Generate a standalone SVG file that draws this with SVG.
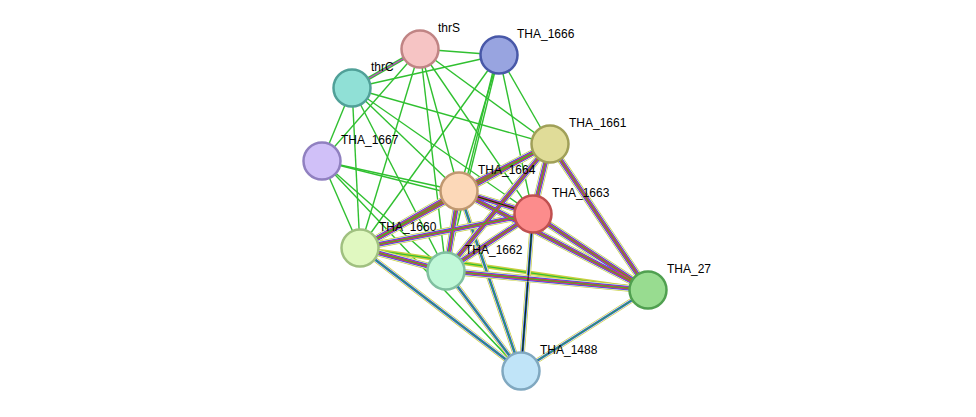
<svg xmlns="http://www.w3.org/2000/svg" width="976" height="417" viewBox="0 0 976 417">
<style>
.g{stroke:#30c030;stroke-width:1.4;fill:none}
.m1{stroke:#c8d040;stroke-width:7}
.m1w{stroke:#ffffff;stroke-width:5.6}
.m2{stroke:#3050e0;stroke-width:4.6}
.m3{stroke:#c040c0;stroke-width:3.2}
.m4{stroke:#e03030;stroke-width:2}
.m5{stroke:#30c030;stroke-width:1}
.f1{stroke:#c8d040;stroke-width:5}
.f1w{stroke:#ffffff;stroke-width:3.6}
.f2{stroke:#3050e0;stroke-width:2.6}
.f3{stroke:#30c030;stroke-width:1}
.n circle{stroke-width:2.5}
text{font-family:"Liberation Sans",Arial,sans-serif;font-size:12px;fill:#000}
</style>
<defs>
<g id="E">
<line x1="459" y1="191" x2="533" y2="214"/><line x1="459" y1="191" x2="550" y2="144"/><line x1="459" y1="191" x2="360" y2="248"/><line x1="459" y1="191" x2="446" y2="271"/><line x1="459" y1="191" x2="648" y2="290"/><line x1="533" y1="214" x2="550" y2="144"/><line x1="533" y1="214" x2="360" y2="248"/><line x1="533" y1="214" x2="446" y2="271"/><line x1="533" y1="214" x2="648" y2="290"/><line x1="550" y1="144" x2="446" y2="271"/><line x1="550" y1="144" x2="360" y2="248"/><line x1="550" y1="144" x2="648" y2="290"/><line x1="360" y1="248" x2="446" y2="271"/><line x1="446" y1="271" x2="648" y2="290"/>
</g>
<g id="F">
<line x1="459" y1="191" x2="521" y2="371"/><line x1="533" y1="214" x2="521" y2="371"/><line x1="446" y1="271" x2="521" y2="371"/><line x1="521" y1="371" x2="648" y2="290"/><line x1="360" y1="248" x2="521" y2="371"/>
</g>
</defs>
<rect width="976" height="417" fill="#fff"/>
<g id="connectors">
<g class="g">
<line x1="420" y1="49" x2="499" y2="55"/><line x1="420" y1="49" x2="550" y2="144"/><line x1="420" y1="49" x2="459" y2="191"/><line x1="420" y1="49" x2="533" y2="214"/><line x1="420" y1="49" x2="360" y2="248"/><line x1="420" y1="49" x2="446" y2="271"/><line x1="420" y1="49" x2="322" y2="161"/>
<line x1="499" y1="55" x2="352" y2="88"/><line x1="499" y1="55" x2="550" y2="144"/><line x1="499" y1="55" x2="459" y2="191"/><line x1="499" y1="55" x2="533" y2="214"/><line x1="499" y1="55" x2="360" y2="248"/><line x1="499" y1="55" x2="446" y2="271"/><line x1="497" y1="55" x2="444" y2="271"/>
<line x1="352" y1="88" x2="550" y2="144"/><line x1="352" y1="88" x2="459" y2="191"/><line x1="352" y1="88" x2="533" y2="214"/><line x1="352" y1="88" x2="360" y2="248"/><line x1="352" y1="88" x2="446" y2="271"/><line x1="352" y1="88" x2="322" y2="161"/>
<line x1="322" y1="161" x2="459" y2="191"/><line x1="322" y1="161" x2="533" y2="214"/><line x1="322" y1="161" x2="360" y2="248"/><line x1="322" y1="161" x2="521" y2="371"/><line x1="322" y1="161" x2="446" y2="271"/>
</g>
<line x1="420" y1="49" x2="352" y2="88" stroke="#30c030" stroke-width="3.5"/>
<line x1="420" y1="49" x2="352" y2="88" stroke="#d040d0" stroke-width="1.3"/>
<line x1="360" y1="248" x2="648" y2="290" stroke="#c8d040" stroke-width="4"/>
<line x1="360" y1="248" x2="648" y2="290" stroke="#30c030" stroke-width="1.2"/>
<use href="#F" class="f1"/>
<use href="#F" class="f1w"/>
<use href="#F" class="f2"/>
<use href="#F" class="f3"/>
<use href="#E" class="m1"/>
<use href="#E" class="m1w"/>
<use href="#E" class="m2"/>
<use href="#E" class="m3"/>
<use href="#E" class="m4"/>
<use href="#E" class="m5"/>
<line x1="459" y1="191" x2="533" y2="214" stroke="#000" stroke-width="0.8"/>
<line x1="533" y1="214" x2="521" y2="371" stroke="#000" stroke-width="0.8"/>
</g>
<g id="thrS" class="n"><circle cx="420" cy="49" r="18.5" fill="#f6c4c4" stroke="#c08484"/><text x="438" y="32">thrS</text></g>
<g id="THA_1666" class="n"><circle cx="499" cy="55" r="18.5" fill="#98a4e0" stroke="#4858a8"/><text x="517" y="38">THA_1666</text></g>
<g id="thrC" class="n"><circle cx="352" cy="88" r="18.5" fill="#90e0d6" stroke="#50a098"/><text x="371" y="71">thrC</text></g>
<g id="THA_1661" class="n"><circle cx="550" cy="144" r="18.5" fill="#e0dc98" stroke="#a0a058"/><text x="569" y="127">THA_1661</text></g>
<g id="THA_1667" class="n"><circle cx="322" cy="161" r="18.5" fill="#d0c0f8" stroke="#9080c0"/><text x="341" y="144">THA_1667</text></g>
<g id="THA_1664" class="n"><circle cx="459" cy="191" r="18.5" fill="#fcd8b8" stroke="#c09870"/><text x="478" y="174">THA_1664</text></g>
<g id="THA_1663" class="n"><circle cx="533" cy="214" r="18.5" fill="#fc8c8c" stroke="#c05050"/><text x="552" y="197">THA_1663</text></g>
<g id="THA_1660" class="n"><circle cx="360" cy="248" r="18.5" fill="#e0f8c0" stroke="#a0c080"/><text x="379" y="231">THA_1660</text></g>
<g id="THA_1662" class="n"><circle cx="446" cy="271" r="18.5" fill="#c0f8d8" stroke="#80c0a0"/><text x="465" y="254">THA_1662</text></g>
<g id="THA_27" class="n"><circle cx="648" cy="290" r="18.5" fill="#98dc90" stroke="#50a050"/><text x="667" y="273">THA_27</text></g>
<g id="THA_1488" class="n"><circle cx="521" cy="371" r="18.5" fill="#c0e4f8" stroke="#80a8c0"/><text x="540" y="354">THA_1488</text></g>
</svg>
